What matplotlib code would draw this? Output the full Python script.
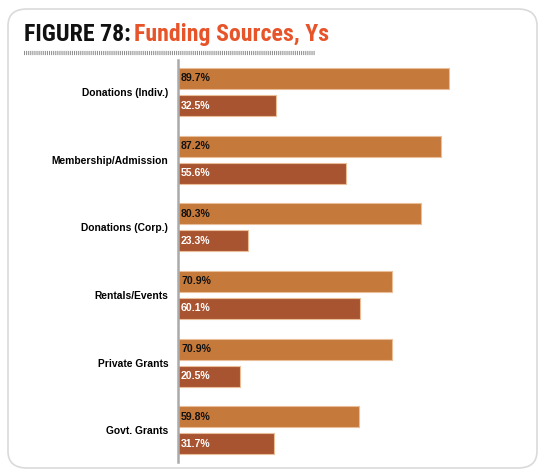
import matplotlib
matplotlib.use("Agg")
import matplotlib.pyplot as plt
from matplotlib.patches import FancyBboxPatch
from matplotlib.lines import Line2D
import numpy as np

categories = ["Donations (Indiv.)", "Membership/Admission", "Donations (Corp.)",
              "Rentals/Events", "Private Grants", "Govt. Grants"]
series_a = [89.7, 87.2, 80.3, 70.9, 70.9, 59.8]
series_b = [32.5, 55.6, 23.3, 60.1, 20.5, 31.7]

ORANGE = "#C5793A"
BROWN = "#A85431"
EDGE = "#E9BE98"
TITLE_RED = "#E8542A"
TITLE_FONT = ["Roboto Condensed", "Liberation Sans Narrow", "Roboto", "DejaVu Sans"]

W, H = 546, 476
fig = plt.figure(figsize=(W / 100, H / 100), dpi=100)

# rounded frame
frame = FancyBboxPatch((8 / W, 8 / H), 529 / W, 459 / H,
                       boxstyle="round,pad=0,rounding_size=0.035",
                       transform=fig.transFigure, facecolor="none",
                       edgecolor="#DADADA", linewidth=1.2, zorder=-1)
fig.patches.append(frame)

# title in two colours
t1 = fig.text(24 / W, 1 - 41 / H, "FIGURE 78:", fontsize=17.2, fontweight="bold",
              family=TITLE_FONT, color="#111111", ha="left", va="baseline")
fig.canvas.draw()
bb = t1.get_window_extent(fig.canvas.get_renderer())
t2 = fig.text(bb.x1 / W + 3 / W, 1 - 41 / H, "Funding Sources, Ys", fontsize=17.2,
              fontweight="bold", family=TITLE_FONT, color=TITLE_RED,
              ha="left", va="baseline")

# hatched rule under the title
fig.lines.append(Line2D([24 / W, 315 / W], [1 - 53 / H, 1 - 53 / H],
                        transform=fig.transFigure, color="#8E8E8E",
                        linewidth=3, dashes=(0.25, 0.25)))

ax = fig.add_axes([178 / W, 14 / H, 302 / W, 402 / H])
y = np.arange(len(categories))
h = 0.31
off = 0.2
ax.barh(y - off, series_a, height=h, color=ORANGE, edgecolor=EDGE, linewidth=0.8)
ax.barh(y + off, series_b, height=h, color=BROWN, edgecolor=EDGE, linewidth=0.8)

for yi, a, b in zip(y, series_a, series_b):
    ax.text(1, yi - off, f"{a}%", color="#111111", fontsize=7.6, fontweight="bold",
            family="Liberation Sans", va="center", ha="left")
    ax.text(1, yi + off, f"{b}%", color="white", fontsize=7.6, fontweight="bold",
            family="Liberation Sans", va="center", ha="left")

ax.set_xlim(0, 100)
ax.set_ylim(5.47, -0.473)
ax.set_yticks(y)
ax.set_yticklabels(categories, fontsize=7.4, fontweight="bold", family="Liberation Sans")
ax.tick_params(axis="y", length=0, pad=7)
ax.set_xticks([])
for s in ["top", "right", "bottom"]:
    ax.spines[s].set_visible(False)
ax.spines["left"].set_color("#AAAAAA")
ax.spines["left"].set_linewidth(1.8)
ax.patch.set_alpha(0)

fig.savefig("out.png", dpi=100)
